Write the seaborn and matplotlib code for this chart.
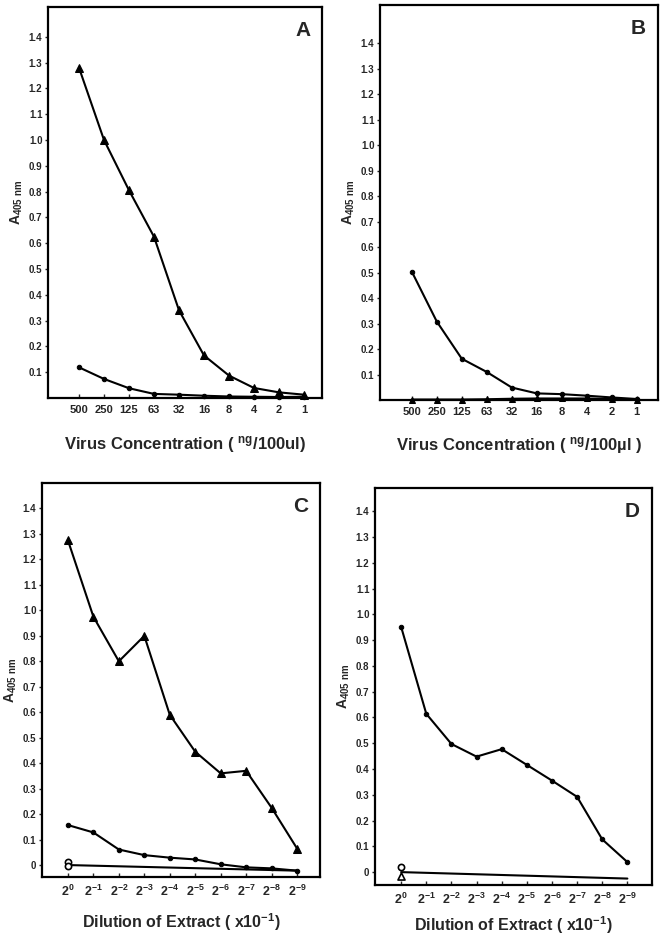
import seaborn as sns
import matplotlib.pyplot as plt
import pandas as pd
import numpy as np

# ---- data ----
virus_conc = ["500", "250", "125", "63", "32", "16", "8", "4", "2", "1"]
dilution = ["$2^{0}$", "$2^{-1}$", "$2^{-2}$", "$2^{-3}$", "$2^{-4}$",
            "$2^{-5}$", "$2^{-6}$", "$2^{-7}$", "$2^{-8}$", "$2^{-9}$"]

a_triangle = [1.28, 1.00, 0.805, 0.625, 0.34, 0.165, 0.087, 0.039, 0.022, 0.013]
a_circle = [0.119, 0.074, 0.038, 0.016, 0.013, 0.009, 0.006, 0.005, 0.004, 0.005]

b_circle = [0.504, 0.308, 0.162, 0.110, 0.049, 0.026, 0.023, 0.017, 0.010, 0.004]
b_triangle = [0.002, 0.002, 0.002, 0.003, 0.005, 0.006, 0.006, 0.006, 0.004, 0.002]

c_triangle = [1.275, 0.975, 0.80, 0.90, 0.59, 0.445, 0.36, 0.37, 0.225, 0.065]
c_circle = [0.157, 0.128, 0.061, 0.039, 0.029, 0.022, 0.003, -0.009, -0.013, -0.022]
c_control = [0.0, -0.022]          # straight line, first to last dilution
c_control_pts = [0.012, -0.003]    # open circles at 2^0

d_circle = [0.951, 0.614, 0.497, 0.448, 0.477, 0.416, 0.355, 0.292, 0.127, 0.039]
d_control = [0.0, -0.025]
d_open_pt = [0.02]
d_tri_pt = [-0.015]

yticks = [0.1, 0.2, 0.3, 0.4, 0.5, 0.6, 0.7, 0.8, 0.9, 1.0, 1.1, 1.2, 1.3, 1.4]
yticks_cd = [0.0] + yticks

# ---- style ----
sns.set_style("ticks")
plt.rcParams['font.family'] = ['Liberation Sans', 'DejaVu Sans']
plt.rcParams['font.weight'] = 'bold'
plt.rcParams['axes.labelweight'] = 'bold'
plt.rcParams['mathtext.default'] = 'regular'

fig = plt.figure(figsize=(6.6, 9.39), dpi=100)
axA = fig.add_axes([0.0727, 0.5761, 0.4152, 0.4164])
axB = fig.add_axes([0.5758, 0.5740, 0.4212, 0.4207])
axC = fig.add_axes([0.0636, 0.0660, 0.4212, 0.4196])
axD = fig.add_axes([0.5682, 0.0575, 0.4197, 0.4228])

line_kw = dict(color="black", linewidth=1.5, clip_on=False)
tri_kw = dict(marker="^", markersize=5.5, markerfacecolor="black", markeredgecolor="black")
dot_kw = dict(marker="o", markersize=3.2, markerfacecolor="black", markeredgecolor="black")


def draw_series(ax, x, y, mk):
    sns.lineplot(x=x, y=y, ax=ax, sort=False, **line_kw, **mk)


# A
draw_series(axA, virus_conc, a_triangle, tri_kw)
draw_series(axA, virus_conc, a_circle, dot_kw)
# B
draw_series(axB, virus_conc, b_circle, dot_kw)
draw_series(axB, virus_conc, b_triangle, dict(tri_kw, markersize=4.5))
# C
draw_series(axC, dilution, c_triangle, tri_kw)
draw_series(axC, dilution, c_circle, dot_kw)
sns.lineplot(x=[dilution[0], dilution[-1]], y=c_control, ax=axC, sort=False,
             color="black", linewidth=1.5)
sns.scatterplot(x=[dilution[0]] * 2, y=c_control_pts, ax=axC, marker="o", s=20,
                facecolor="white", edgecolor="black", linewidth=1.2, zorder=5)
# D
draw_series(axD, dilution, d_circle, dot_kw)
sns.lineplot(x=[dilution[0], dilution[-1]], y=d_control, ax=axD, sort=False,
             color="black", linewidth=1.5)
sns.scatterplot(x=[dilution[0]], y=d_open_pt, ax=axD, marker="o", s=20,
                facecolor="white", edgecolor="black", linewidth=1.2, zorder=5)
sns.scatterplot(x=[dilution[0]], y=d_tri_pt, ax=axD, marker="^", s=26,
                facecolor="white", edgecolor="black", linewidth=1.2, zorder=5)

# ---- axes formatting ----
limits = {
    axA: ((-1.24, 9.72), (0.0, 1.515), yticks),
    axB: ((-1.27, 9.85), (0.0, 1.55), yticks),
    axC: ((-1.02, 9.9), (-0.047, 1.50), yticks_cd),
    axD: ((-1.04, 9.98), (-0.05, 1.49), yticks_cd),
}
letters = {axA: "A", axB: "B", axC: "C", axD: "D"}

for ax, (xl, yl, yt) in limits.items():
    ax.set_xlim(*xl)
    ax.set_ylim(*yl)
    ax.set_yticks(yt)
    ax.set_yticklabels(["0" if v == 0 else f"{v:.1f}" for v in yt], fontsize=7,
                       fontweight="bold")
    for sp in ax.spines.values():
        sp.set_visible(True)
        sp.set_linewidth(1.6)
        sp.set_color("black")
    ax.tick_params(axis="y", direction="out", length=2.5, width=1, pad=1.5)
    ax.tick_params(axis="x", direction="in", length=3, width=1, pad=5)
    ax.set_ylabel("A$_{405\\ nm}$", fontsize=10, labelpad=3)
    ax.text(0.93, 0.94, letters[ax], transform=ax.transAxes, ha="center",
            va="center", fontsize=15, fontweight="bold")
    for lbl in ax.get_xticklabels():
        lbl.set_fontweight("bold")
        lbl.set_fontsize(8 if ax in (axA, axB) else 9)

axA.set_xlabel("Virus Concentration ( $^{ng}$/100ul)", fontsize=12, labelpad=14)
axB.set_xlabel("Virus Concentration ( $^{ng}$/100µl )", fontsize=12, labelpad=13)
axC.set_xlabel("Dilution of Extract ( x10$^{-1}$)", fontsize=11.5, labelpad=9)
axD.set_xlabel("Dilution of Extract ( x10$^{-1}$)", fontsize=11.5, labelpad=5)

fig.savefig("out.png", dpi=100, facecolor="white")
plt.close(fig)
